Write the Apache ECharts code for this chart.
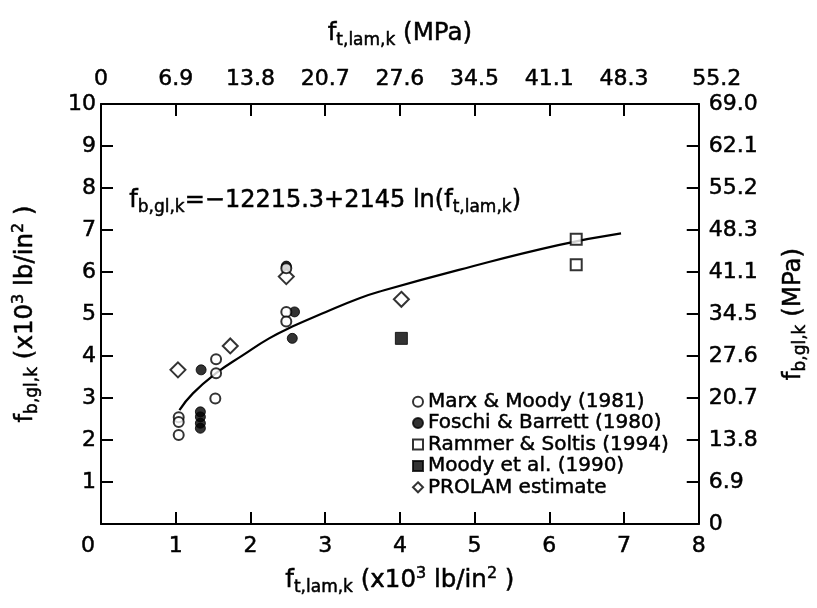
<!DOCTYPE html>
<html><head><meta charset="utf-8">
<script src="https://cdn.jsdelivr.net/npm/echarts@6/dist/echarts.min.js"></script>
<style>html,body{margin:0;padding:0;background:#fff}#c{width:817px;height:608px}</style>
</head><body><div id="c"></div>
<script>
const FONT = 'DejaVu Sans';
// axis tick labels
const topLabels = ['0','6.9','13.8','20.7','27.6','34.5','41.1','48.3','55.2'];
const rightLabels = ['0','6.9','13.8','20.7','27.6','34.5','41.1','48.3','55.2','62.1','69.0'];
const bottomLabels = ['0','1','2','3','4','5','6','7','8'];
const leftLabels = ['','1','2','3','4','5','6','7','8','9','10'];
// data (x: f_t,lam,k in 10^3 lb/in^2, y: f_b,gl,k in 10^3 lb/in^2)
const marxMoody = [[1.04,2.54],[1.04,2.43],[1.04,2.12],[1.54,3.92],[1.54,3.59],[1.53,2.99],[2.48,6.09],[2.48,5.05],[2.48,4.82]];
const foschiBarrett = [[1.34,3.67],[1.33,2.67],[1.33,2.55],[1.33,2.40],[1.33,2.28],[2.59,5.05],[2.56,4.42],[2.48,6.14]];
const rammerSoltis = [[6.36,6.78],[6.36,6.17]];
const moodyEtAl = [[4.02,4.42]];
const prolam = [[1.03,3.67],[1.73,4.24],[2.48,5.89],[4.02,5.35]];
const fitCurve = [[1.05,2.71],[1.23,3.11],[1.54,3.59],[1.90,4.02],[2.25,4.42],[2.56,4.70],[3.01,5.05],[3.45,5.37],[3.72,5.53],[4.79,6.05],[6.12,6.64],[6.96,6.92]];
const legendNames = ['Marx & Moody (1981)','Foschi & Barrett (1980)','Rammer & Soltis (1994)','Moody et al. (1990)','PROLAM estimate'];

const TB = {textBorderColor: '#000', textBorderWidth: 0.5};
const rich = {
  m: Object.assign({fontSize: 24.5, lineHeight: 30, fontFamily: FONT, color: '#000'}, TB),
  s: Object.assign({fontSize: 17, lineHeight: 14, verticalAlign: 'bottom', fontFamily: FONT, color: '#000'}, TB),
  p: Object.assign({fontSize: 16, lineHeight: 14, verticalAlign: 'top', fontFamily: FONT, color: '#000'}, TB)
};
const axisLine = () => ({show: true, onZero: false, lineStyle: {color: '#000', width: 2}});
const tick = () => ({show: true, inside: true, length: 12, interval: 0, lineStyle: {color: '#000', width: 2}});
const lbl = Object.assign({fontFamily: FONT, fontSize: 22, color: '#000'}, TB);
const open = {color: '#fff', borderColor: '#000', borderWidth: 2};
const filled = {color: '#000', borderColor: '#000', borderWidth: 1};

const chart = echarts.init(document.getElementById('c'));
chart.setOption({
  animation: false,
  backgroundColor: '#fff',
  grid: {left: 101, right: 116, top: 104, bottom: 84},
  xAxis: [{
    type: 'value', position: 'bottom', min: 0, max: 8, interval: 1,
    axisLine: axisLine(), axisTick: tick(), splitLine: {show: false},
    axisLabel: Object.assign({margin: 11, formatter: v => {
      const t = bottomLabels[Math.round(v)];
      return v === 0 ? '{z|' + t + '}' : t;
    }, rich: {z: Object.assign({fontFamily: FONT, fontSize: 22, color: '#000', padding: [0, 26, 0, 0]}, TB)}}, lbl),
    name: '{m|f}{s|t,lam,k}{m| (x10}{p|3}{m| lb/in}{p|2}{m| )}',
    nameLocation: 'middle', nameGap: 42, nameTextStyle: {rich}
  }, {
    type: 'value', position: 'top', min: 0, max: 8, interval: 1,
    axisLine: axisLine(), axisTick: tick(), splitLine: {show: false},
    axisLabel: Object.assign({margin: 14, formatter: v => {
      const t = topLabels[Math.round(v)];
      if (v === 8) return '{r|' + t + '}';
      return t;
    }, rich: {
      r: Object.assign({fontFamily: FONT, fontSize: 22, color: '#000', padding: [0, 0, 0, 36]}, TB)
    }}, lbl),
    name: '{m|f}{s|t,lam,k}{m| (MPa)}',
    nameLocation: 'middle', nameGap: 55, nameTextStyle: {rich}
  }],
  yAxis: [{
    type: 'value', position: 'left', min: 0, max: 10, interval: 1,
    axisLine: axisLine(), axisTick: tick(), splitLine: {show: false},
    axisLabel: Object.assign({margin: 5, formatter: v => leftLabels[Math.round(v)]}, lbl),
    name: '{m|f}{s|b,gl,k}{m| (x10}{p|3}{m| lb/in}{p|2}{m| )}',
    nameLocation: 'middle', nameGap: 60, nameRotate: 90, nameTextStyle: {rich}
  }, {
    type: 'value', position: 'right', min: 0, max: 10, interval: 1,
    axisLine: axisLine(), axisTick: tick(), splitLine: {show: false},
    axisLabel: Object.assign({margin: 10, formatter: v => rightLabels[Math.round(v)]}, lbl),
    name: '{m|f}{s|b,gl,k}{m| (MPa)}',
    nameLocation: 'middle', nameGap: 80, nameRotate: 90, nameTextStyle: {rich}
  }],
  legend: {
    orient: 'vertical', left: 407, top: 386,
    itemWidth: 10, itemHeight: 10, itemGap: 0,
    textStyle: Object.assign({fontFamily: FONT, fontSize: 20, color: '#000', lineHeight: 21.4}, TB),
    data: legendNames
  },
  graphic: [{
    type: 'text', left: 129, top: 189, z: 10,
    style: {
      text: '{m|f}{s|b,gl,k}{m|=−12215.3+2145 ln(f}{s|t,lam,k}{m|)}',
      rich: {
        m: {fontSize: 24, lineHeight: 30, fontFamily: FONT, fill: '#000', stroke: '#000', lineWidth: 0.5},
        s: {fontSize: 17, lineHeight: 15, verticalAlign: 'bottom', fontFamily: FONT, fill: '#000', stroke: '#000', lineWidth: 0.5}
      }
    }
  }],
  series: [
    {type: 'line', data: fitCurve, smooth: true, symbol: 'none', lineStyle: {color: '#000', width: 2.2}, z: 1, silent: true},
    {name: legendNames[1], type: 'scatter', data: foschiBarrett, symbol: 'circle', symbolSize: 10, itemStyle: filled, z: 2},
    {name: legendNames[0], type: 'scatter', data: marxMoody, symbol: 'circle', symbolSize: 10, itemStyle: open, z: 3},
    {name: legendNames[2], type: 'scatter', data: rammerSoltis, symbol: 'rect', symbolSize: 11, itemStyle: open, z: 2},
    {name: legendNames[3], type: 'scatter', data: moodyEtAl, symbol: 'rect', symbolSize: 12, itemStyle: filled, z: 2},
    {name: legendNames[4], type: 'scatter', data: prolam, symbol: 'diamond', symbolSize: 15, itemStyle: open, z: 2}
  ]
});
</script></body></html>
